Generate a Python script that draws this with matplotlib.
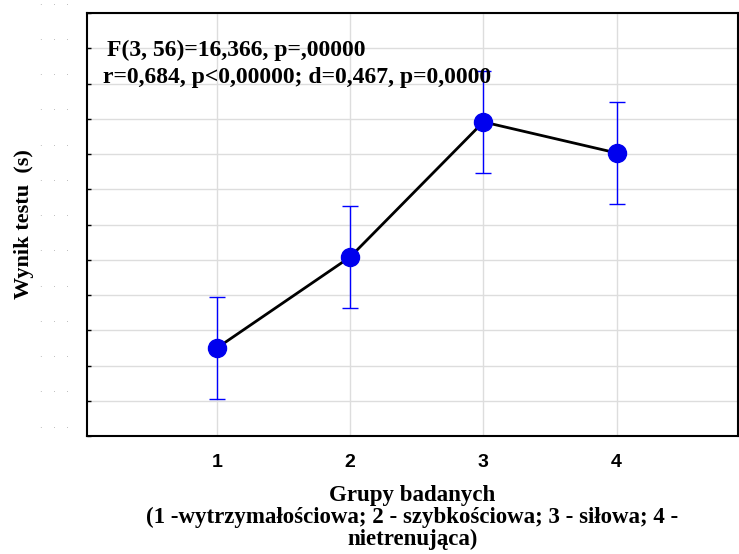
import matplotlib.pyplot as plt

# dane (jednostki umowne osi)
grupy = [1, 2, 3, 4]
srednie = [2.50, 5.08, 8.91, 8.03]
bledy = [1.45, 1.44, 1.45, 1.45]
tick_y = list(range(0, 13))
tick_x_labels = ['1', '2', '3', '4']

fig = plt.figure(figsize=(7.39, 5.54), dpi=100)
ax = fig.add_axes([0.1177, 0.213, 0.8805, 0.7635])

# linia + punkty z przedzialami
ax.plot(grupy, srednie, color='black', lw=2, zorder=3)
ax.errorbar(grupy, srednie, yerr=bledy, fmt='none', ecolor='#0000ff',
            elinewidth=1, capsize=6, capthick=1, zorder=2)
ax.plot(grupy, srednie, 'o', color='#0000ee', markersize=13, zorder=4)

ax.set_xticks(grupy)
ax.set_xticklabels(tick_x_labels, fontsize=14, fontweight='bold', family='Liberation Sans')
ax.set_yticks(tick_y)
ax.set_yticklabels([])
ax.set_xlim(0.0226, 4.91)
ax.set_ylim(0, 12)

# opisy osi Y to same kropki, lekko nad podzialkami
tr = ax.get_yaxis_transform()
for t in tick_y:
    ax.text(-0.028, t + 0.31, '.    .    .', transform=tr, ha='right', va='center',
            fontsize=6, color='#999999', clip_on=False)

ax.tick_params(axis='y', direction='in', length=3, width=1)
ax.tick_params(axis='x', length=0, pad=13)
ax.grid(True, color='#dddddd', lw=1)
ax.set_axisbelow(True)
for s in ax.spines.values():
    s.set_linewidth(1.5)

serif = ['Liberation Serif', 'DejaVu Serif']
ax.set_ylabel('Wynik testu  (s)', fontsize=16, fontweight='bold', family=serif)
ax.yaxis.set_label_coords(-0.082, 0.5)
ax.set_xlabel('Grupy badanych\n(1 -wytrzymałościowa; 2 - szybkościowa; 3 - siłowa; 4 -\nnietrenująca)',
              fontsize=16.5, fontweight='bold', family=serif, labelpad=10, linespacing=1.05)

fig.text(107 / 739, 1 - 50 / 554, 'F(3, 56)=16,366, p=,00000', fontsize=17,
         fontweight='bold', family=serif, va='center')
fig.text(103 / 739, 1 - 77 / 554, 'r=0,684, p<0,00000; d=0,467, p=0,0000', fontsize=17,
         fontweight='bold', family=serif, va='center')

fig.savefig('out.png', dpi=100)
